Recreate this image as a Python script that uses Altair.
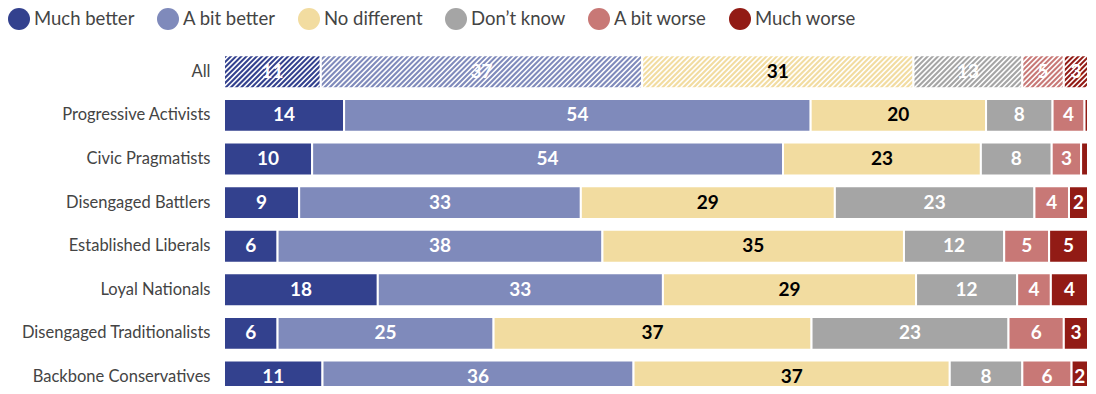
import altair as alt
import pandas as pd

groups = ["All", "Progressive Activists", "Civic Pragmatists", "Disengaged Battlers",
          "Established Liberals", "Loyal Nationals", "Disengaged Traditionalists",
          "Backbone Conservatives"]
categories = ["Much better", "A bit better", "No different", "Don’t know", "A bit worse", "Much worse"]
colors = ["#33418e", "#7f8abb", "#f2dca0", "#a5a5a5", "#c87876", "#921b15"]

# estimated shares
much_better = [11.2, 13.9, 10.2, 8.7, 6.2, 17.8, 6.2, 11.4]
a_bit_better = [37.2, 54.0, 54.5, 32.6, 37.6, 33.0, 25.0, 36.0]
no_different = [31.4, 20.3, 22.9, 29.4, 34.9, 29.3, 36.8, 36.6]
dont_know = [12.6, 7.7, 8.2, 23.1, 11.6, 11.7, 22.8, 8.4]
a_bit_worse = [4.8, 3.7, 3.4, 4.0, 5.2, 3.9, 6.4, 5.7]
much_worse = [2.8, 0.4, 0.8, 2.2, 4.5, 4.3, 2.8, 1.9]

# printed labels
much_better_lbl = [11, 14, 10, 9, 6, 18, 6, 11]
a_bit_better_lbl = [37, 54, 54, 33, 38, 33, 25, 36]
no_different_lbl = [31, 20, 23, 29, 35, 29, 37, 37]
dont_know_lbl = [13, 8, 8, 23, 12, 12, 23, 8]
a_bit_worse_lbl = [5, 4, 3, 4, 5, 4, 6, 6]
much_worse_lbl = [3, 1, 1, 2, 5, 4, 3, 2]

series = [much_better, a_bit_better, no_different, dont_know, a_bit_worse, much_worse]
labels = [much_better_lbl, a_bit_better_lbl, no_different_lbl, dont_know_lbl,
          a_bit_worse_lbl, much_worse_lbl]

rows = []
for gi, g in enumerate(groups):
    for ci, c in enumerate(categories):
        rows.append(dict(group=g, category=c, order=ci,
                         value=series[ci][gi], label=labels[ci][gi]))
df = pd.DataFrame(rows)

FONT = "Lato"
PAD_LEFT = 216
PAD_TOP = 42
PLOT_W = 864
PLOT_H = 336
STEP = 43.6
RANGE_H = STEP * len(groups)
PAD_IN = 0.245
BAR_H = STEP * (1 - PAD_IN)

xscale = alt.Scale(domain=[0, 100], nice=False, zero=True)
yscale = alt.Scale(range=[0, RANGE_H], paddingInner=PAD_IN, paddingOuter=PAD_IN / 2)

base = alt.Chart(df).transform_stack(
    stack="value", as_=["x0", "x1"], groupby=["group"],
    sort=[alt.SortField("order", order="ascending")]
).transform_calculate(mid="(datum.x0 + datum.x1) / 2")

bars = base.mark_bar(stroke="white", strokeWidth=2, clip=True).encode(
    x=alt.X("x0:Q", scale=xscale, axis=None),
    x2="x1:Q",
    y=alt.Y("group:N", sort=groups, scale=yscale, title=None,
            axis=alt.Axis(ticks=False, domain=False, labelFontSize=16.5,
                          labelColor="#444444", labelPadding=14, labelLimit=400,
                          labelFont=FONT)),
    color=alt.Color("category:N", sort=categories,
                    scale=alt.Scale(domain=categories, range=colors),
                    legend=alt.Legend(orient="none", legendX=-PAD_LEFT, legendY=-PAD_TOP,
                                      direction="horizontal", title=None,
                                      symbolType="circle", symbolSize=484,
                                      symbolStrokeWidth=0, symbolOpacity=1,
                                      labelFontSize=18.5, labelColor="#444444",
                                      labelFont=FONT, labelOffset=4,
                                      columnPadding=22, padding=0)),
)

# diagonal white hatching on the "All" row
units_per_px = 100 / PLOT_W
d = BAR_H * units_per_px
period = 5.2 * units_per_px
stripes = alt.Chart(alt.sequence(start=-d, stop=100, step=period, as_="t")).transform_calculate(
    t2=f"datum.t + {d}", group='"All"'
).mark_rule(color="white", strokeWidth=1.6, clip=True,
            yOffset=BAR_H / 2, y2Offset=-BAR_H / 2).encode(
    x=alt.X("t:Q", scale=xscale),
    x2="t2:Q",
    y=alt.Y("group:N", sort=groups),
    y2="group:N",
)

text = base.transform_filter("datum.value >= 1.5").mark_text(
    font=FONT, fontWeight="bold", fontSize=19, baseline="middle", align="center"
).encode(
    x="mid:Q",
    y=alt.Y("group:N", sort=groups),
    text="label:Q",
    color=alt.condition("datum.category === 'No different'",
                        alt.value("#000000"), alt.value("#ffffff")),
)

chart = alt.layer(bars, stripes, text).properties(
    width=PLOT_W, height=PLOT_H,
    autosize=alt.AutoSizeParams(type="none"),
    padding={"left": PAD_LEFT, "top": PAD_TOP, "right": 0, "bottom": 0},
    background="white",
).configure(font=FONT, view=alt.ViewConfig(stroke=None))

chart.save("out.html", embed_options={"renderer": "svg", "actions": False})
